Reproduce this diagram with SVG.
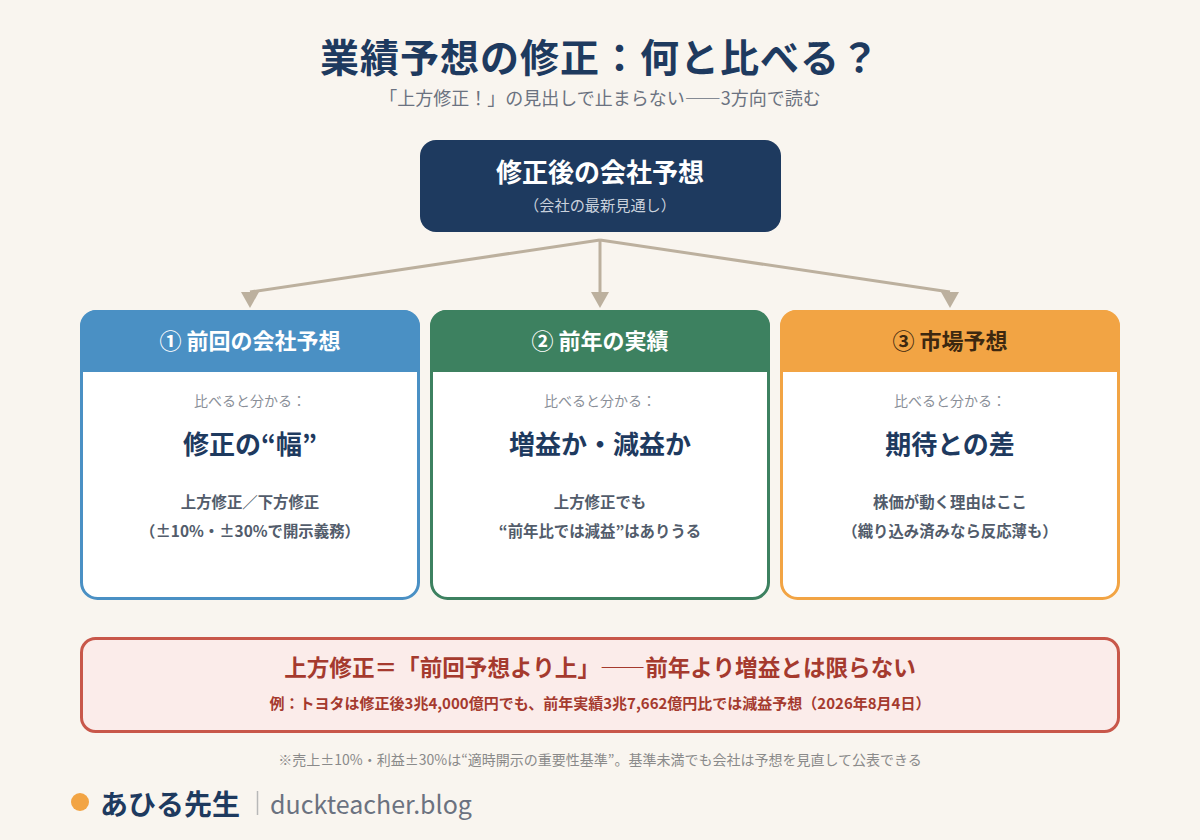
<svg xmlns="http://www.w3.org/2000/svg" width="1200" height="840" viewBox="0 0 1200 840">
<defs>
<style>
text{font-family:"Noto Sans CJK JP","Noto Sans",sans-serif;text-anchor:middle}
.b{font-weight:700}
.hdr{font-size:22px;font-weight:700;fill:#ffffff}
.lbl{font-size:14px;fill:#8a8f98}
.key{font-size:26px;font-weight:700;fill:#1e3a5f}
.desc{font-size:15.4px;font-weight:700;fill:#525c6b}
.conn{stroke:#bcb09e;stroke-width:3;fill:none}
.ah{fill:#bcb09e}
</style>
</defs>
<rect width="1200" height="840" fill="#f9f5ef"/>
<text x="600" y="72" class="b" style="font-size:39px;letter-spacing:1px;fill:#1e3a5f">業績予想の修正：何と比べる？</text>
<text x="600" y="105" style="font-size:18px;fill:#6b7280">「上方修正！」の見出しで止まらない――3方向で読む</text>

<g id="connectors">
<line class="conn" x1="600" y1="240" x2="600" y2="292"/>
<line class="conn" x1="600" y1="240" x2="250" y2="292"/>
<line class="conn" x1="600" y1="240" x2="950" y2="292"/>
<path class="ah" d="M591,292 L609,292 L600,308 Z"/>
<path class="ah" d="M241,292 L259,292 L250,308 Z"/>
<path class="ah" d="M941,292 L959,292 L950,308 Z"/>
</g>

<g id="top">
<rect x="420" y="140" width="361" height="92" rx="16" fill="#1e3a5f"/>
<text x="600" y="182" class="b" style="font-size:26px;fill:#ffffff">修正後の会社予想</text>
<text x="600" y="211" style="font-size:15.2px;fill:#c9d1dc">（会社の最新見通し）</text>
</g>

<g id="box1">
<rect x="81.5" y="311.5" width="337" height="287" rx="16" fill="#ffffff" stroke="#4a90c4" stroke-width="3"/>
<path d="M80,372 V326 A16,16 0 0 1 96,310 H404 A16,16 0 0 1 420,326 V372 Z" fill="#4a90c4"/>
<text x="250" y="349" class="hdr">① 前回の会社予想</text>
<text x="250" y="406" class="lbl">比べると分かる：</text>
<text x="250" y="454" class="key">修正の“幅”</text>
<text x="250" y="508" class="desc">上方修正／下方修正</text>
<text x="250" y="537" class="desc">（±10%・±30%で開示義務）</text>
</g>

<g id="box2">
<rect x="431.5" y="311.5" width="337" height="287" rx="16" fill="#ffffff" stroke="#3d8160" stroke-width="3"/>
<path d="M430,372 V326 A16,16 0 0 1 446,310 H754 A16,16 0 0 1 770,326 V372 Z" fill="#3d8160"/>
<text x="600" y="349" class="hdr">② 前年の実績</text>
<text x="600" y="406" class="lbl">比べると分かる：</text>
<text x="600" y="454" class="key">増益か・減益か</text>
<text x="600" y="508" class="desc">上方修正でも</text>
<text x="600" y="537" class="desc">“前年比では減益”はありうる</text>
</g>

<g id="box3">
<rect x="781.5" y="311.5" width="337" height="287" rx="16" fill="#ffffff" stroke="#f2a444" stroke-width="3"/>
<path d="M780,372 V326 A16,16 0 0 1 796,310 H1104 A16,16 0 0 1 1120,326 V372 Z" fill="#f2a444"/>
<text x="950" y="349" class="hdr" style="fill:#3d2810">③ 市場予想</text>
<text x="950" y="406" class="lbl">比べると分かる：</text>
<text x="950" y="454" class="key">期待との差</text>
<text x="950" y="508" class="desc">株価が動く理由はここ</text>
<text x="950" y="537" class="desc">（織り込み済みなら反応薄も）</text>
</g>

<g id="note">
<rect x="81.5" y="638.5" width="1037" height="93" rx="14" fill="#fbecea" stroke="#c8574a" stroke-width="3"/>
<text x="600" y="676" class="b" style="font-size:22.6px;fill:#a53a2e">上方修正＝「前回予想より上」――前年より増益とは限らない</text>
<text x="600" y="709" class="b" style="font-size:15px;fill:#a53a2e">例：トヨタは修正後3兆4,000億円でも、前年実績3兆7,662億円比では減益予想（2026年8月4日）</text>
</g>

<text x="600" y="765" style="font-size:14px;fill:#8a8a8a">※売上±10%・利益±30%は“適時開示の重要性基準”。基準未満でも会社は予想を見直して公表できる</text>

<g id="footer">
<circle cx="80" cy="802" r="9" fill="#f2a444"/>
<text x="100" y="815" class="b" style="font-size:28px;fill:#1e3a5f;text-anchor:start">あひる先生</text>
<line x1="257.5" y1="791" x2="257.5" y2="815" stroke="#b8b8b8" stroke-width="1.5"/>
<text x="270" y="814" style="font-size:25px;fill:#6b7280;text-anchor:start">duckteacher.blog</text>
</g>
</svg>
